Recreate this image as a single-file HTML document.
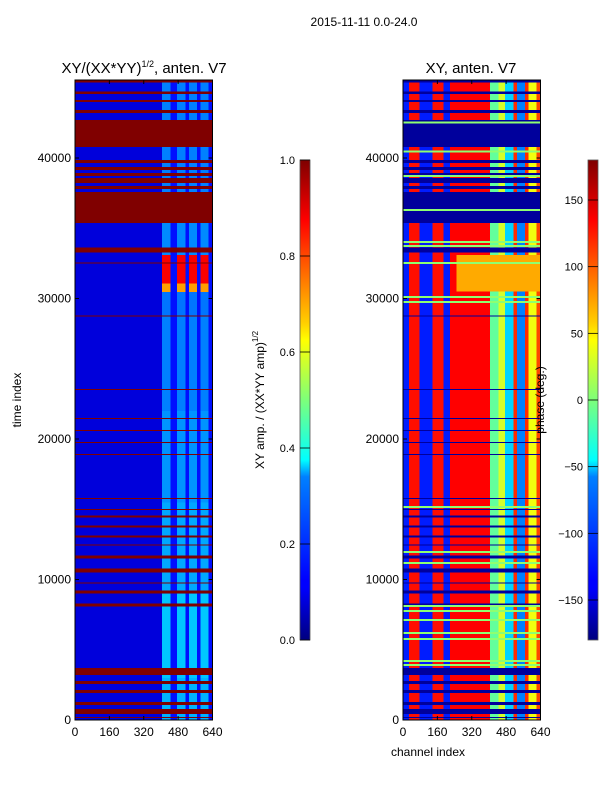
<!DOCTYPE html>
<html><head><meta charset="utf-8">
<style>
html,body{margin:0;padding:0;background:#fff;}
svg{display:block;font-family:"Liberation Sans",sans-serif;}
</style></head>
<body>
<svg id="fig" width="600" height="800" viewBox="0 0 600 800" xmlns="http://www.w3.org/2000/svg">
<defs>
<linearGradient id="jetV" x1="0" y1="1" x2="0" y2="0">
<stop offset="0" stop-color="#00007f"/><stop offset="0.11" stop-color="#0000ff"/><stop offset="0.125" stop-color="#0000ff"/>
<stop offset="0.34" stop-color="#0080ff"/><stop offset="0.375" stop-color="#00ffff"/><stop offset="0.5" stop-color="#7dff7a"/>
<stop offset="0.625" stop-color="#ffff00"/><stop offset="0.66" stop-color="#ffd000"/><stop offset="0.875" stop-color="#ff0000"/><stop offset="1" stop-color="#7f0000"/>
</linearGradient>
</defs>
<text x="364" y="26" font-size="12" text-anchor="middle">2015-11-11 0.0-24.0</text>
<text x="144" y="73" font-size="15" text-anchor="middle">XY/(XX*YY)<tspan dy="-6" font-size="9">1/2</tspan><tspan dy="6">, anten. V7</tspan></text>
<text x="471" y="73" font-size="15" text-anchor="middle">XY, anten. V7</text>
<g id="left"></g>
<g id="right"></g>
<g id="axes"></g>
<text transform="translate(21,400) rotate(-90)" font-size="12" text-anchor="middle">time index</text>
<text x="428" y="756" font-size="12" text-anchor="middle">channel index</text>
<rect x="300" y="160" width="10" height="480" fill="url(#jetV)" stroke="#555" stroke-width="0.8"/>
<rect x="588" y="160" width="10" height="480" fill="url(#jetV)" stroke="#555" stroke-width="0.8"/>
<text transform="translate(264,400) rotate(-90)" font-size="12" text-anchor="middle">XY amp. / (XX*YY amp)<tspan dy="-6" font-size="8">1/2</tspan></text>
<text transform="translate(544,400) rotate(-90)" font-size="12" text-anchor="middle">phase (deg.)</text>
<g id="cb"></g>
</svg>
<script>
// ---- data ----
const channelEdges = [0,28,76,138,188,219,405,445,475,515,530,568,584,622,640];
const timeTicks = [0,10000,20000,30000,40000];
const chanTicks = [0,160,320,480,640];
const ampTicks = [0.0,0.2,0.4,0.6,0.8,1.0];
const phaseTicks = [-150,-100,-50,0,50,100,150];
const segStart = [0,3000,9000,15500,22000,28800,30500,31100,33100,35400];
const segEnd   = [3000,9000,15500,22000,28800,30500,31100,33100,35400,45550];
const segBright= [0.3,0.32,0.29,0.27,0.25,0.24,0.72,0.88,0.26,0.25];
const ampBase = [0.09,0.09,0.09,0.09,0.09,0.09,null,0.14,null,0.14,null,0.14,null,0.14];
const phaseBase = [-125,130,-125,130,-125,135,-10,30,-60,120,-90,120,40,110];
const flagStart = [45357,44571,44000,43214,40786,39643,39143,38714,38214,37786,35357,33286,32500,28714,23500,21429,20571,19714,18857,15714,14929,14429,13714,13000,12429,11500,10500,9714,9000,8071,3214,2571,1929,1071,429,143];
const flagEnd   = [45550,44714,44143,43428,42714,39857,39357,38929,38571,38000,37571,33643,32571,28786,23571,21500,20643,19786,18929,15786,15000,14571,13857,13143,12500,11714,10786,9786,9214,8286,3714,2786,2143,1286,786,214];
const warmStart = [30500];
const warmEnd = [33100];
const warmPhase = [75];
const greenLines = [42520,40450,38720,36300,34020,33740,32530,30100,29740,15160,11957,11174,8114,7758,7117,6192,5765,4199,3915];

// ---- scales ----
const T0=0, T1=45550, YB=720, YT=80;
const yS = t => YB - (t-T0)/(T1-T0)*(YB-YT);
const LX=75, RX=403, PW=137.5;
const xS = (c,x0) => x0 + c/640*PW;
function jet(v){v=Math.max(0,Math.min(1,v));const c=a=>Math.round(255*Math.max(0,Math.min(1,a)));
 return `rgb(${c(1.5-Math.abs(4*v-3))},${c(1.5-Math.abs(4*v-2))},${c(1.5-Math.abs(4*v-1))})`;}
const pv = p => (p+180)/360;
const NS='http://www.w3.org/2000/svg';
function rect(g,x,y,w,h,fill){const r=document.createElementNS(NS,'rect');
 r.setAttribute('x',x);r.setAttribute('y',y);r.setAttribute('width',w);r.setAttribute('height',h);r.setAttribute('fill',fill);
 r.setAttribute('shape-rendering','crispEdges');
 
 
 g.appendChild(r);return r;}
function txt(g,x,y,s,anchor,size){const t=document.createElementNS(NS,'text');
 t.setAttribute('x',x);t.setAttribute('y',y);t.setAttribute('text-anchor',anchor);t.setAttribute('font-size',size);t.textContent=s;
 
 
 g.appendChild(t);return t;}
const L=document.getElementById('left'), R=document.getElementById('right'), A=document.getElementById('axes'), CB=document.getElementById('cb');

for(let s=0;s<segStart.length;s++){
 const y0=yS(segEnd[s]), h=yS(segStart[s])-y0;
 for(let g=0;g<channelEdges.length-1;g++){
  const a = ampBase[g]===null ? segBright[s] : ampBase[g];
  const xl=xS(channelEdges[g],LX), xr=xS(channelEdges[g],RX), w=(channelEdges[g+1]-channelEdges[g])/640*PW;
  rect(L,xl,y0,w+0.3,h+0.3,jet(a));
  rect(R,xr,y0,w+0.3,h+0.3,jet(pv(phaseBase[g])));
 }
}
for(let i=0;i<warmStart.length;i++){
 const y0=yS(warmEnd[i]),h=yS(warmStart[i])-y0;
 rect(R,xS(250,RX),y0,xS(640,RX)-xS(250,RX),h,jet(pv(warmPhase[i])));
}
for(let i=0;i<flagStart.length;i++){
 const y0=yS(flagEnd[i]),h=Math.max(1,yS(flagStart[i])-y0);
 rect(L,LX,y0,PW,h,jet(1.0));
 rect(R,RX,y0,PW,h,jet(pv(-170)));
}
for(let i=0;i<greenLines.length;i++){
 rect(R,RX,yS(greenLines[i])-1,PW,2,jet(pv(5)));
}

[LX,RX].forEach((x0,k)=>{
 const f=document.createElementNS(NS,'rect');
 f.setAttribute('x',x0);f.setAttribute('y',YT);f.setAttribute('width',PW);f.setAttribute('height',YB-YT);
 f.setAttribute('fill','none');f.setAttribute('stroke','#000');f.setAttribute('stroke-width','1');
 
 
 A.appendChild(f);
 timeTicks.forEach(t=>{txt(A,x0-4,yS(t)+4,String(t),'end',12);
  const l=document.createElementNS(NS,'path');l.setAttribute('d',`M${x0},${yS(t)}h4M${x0+PW},${yS(t)}h-4`);l.setAttribute('stroke','#000');
  
  
  A.appendChild(l);});
 chanTicks.forEach(c=>{txt(A,xS(c,x0),YB+16,String(c),'middle',12);
  const l=document.createElementNS(NS,'path');l.setAttribute('d',`M${xS(c,x0)},${YB}v-4M${xS(c,x0)},${YT}v4`);l.setAttribute('stroke','#000');
  
  
  A.appendChild(l);});
});
ampTicks.forEach(v=>{const y=640-v*480;txt(CB,295,y+4,v.toFixed(1),'end',11);
 const l=document.createElementNS(NS,'path');l.setAttribute('d',`M300,${y}h10`);l.setAttribute('stroke','#000');l.setAttribute('stroke-width','0.8');
 
 
 CB.appendChild(l);});
phaseTicks.forEach(p=>{const y=640-pv(p)*480;txt(CB,583,y+4,String(p).replace('-','\u2212'),'end',11);
 const l=document.createElementNS(NS,'path');l.setAttribute('d',`M588,${y}h10`);l.setAttribute('stroke','#000');l.setAttribute('stroke-width','0.8');
 
 
 CB.appendChild(l);});
</script>
</body></html>
